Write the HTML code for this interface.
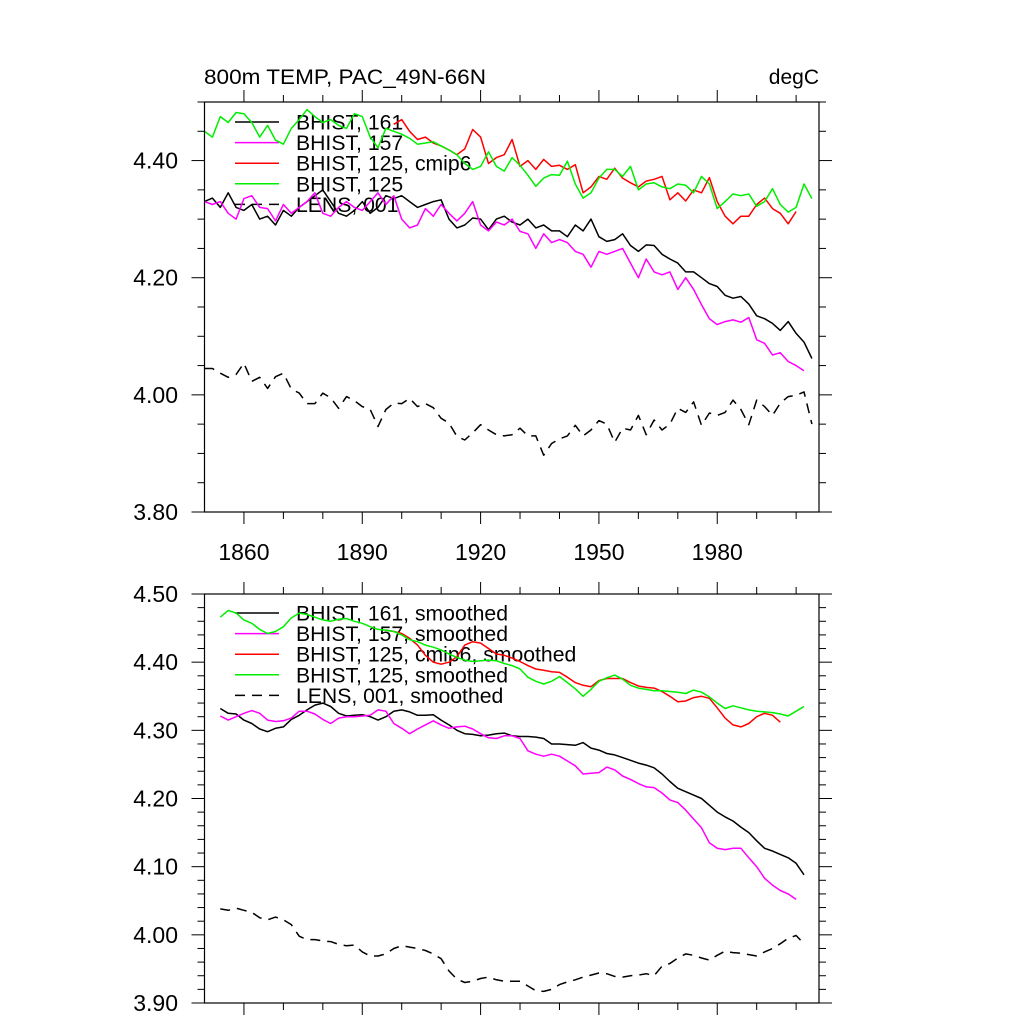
<!DOCTYPE html>
<html><head><meta charset="utf-8"><style>
html,body{margin:0;padding:0;background:#fff;}
svg{display:block;font-family:"Liberation Sans",Arial,sans-serif;}
</style></head><body>
<svg id="chart" width="1024" height="1024" viewBox="0 0 1024 1024" xmlns="http://www.w3.org/2000/svg">
<rect width="1024" height="1024" fill="#fff"/>
<text x="204" y="84" font-size="21" textLength="282" lengthAdjust="spacingAndGlyphs">800m TEMP, PAC_49N-66N</text>
<text x="819" y="84" font-size="21" text-anchor="end">degC</text>
<g id="top"></g>
<g id="bot"></g>
</svg>
<script>
// ---------- data ----------
const yearsTop = [];
for (let y = 1850; y <= 2004; y += 2) yearsTop.push(y);
const yearsSm = [];
for (let y = 1854; y <= 2002; y += 2) yearsSm.push(y);
const xTickLabels = [1860, 1890, 1920, 1950, 1980];
const topYTicks = [3.80, 4.00, 4.20, 4.40];
const botYTicks = [3.90, 4.00, 4.10, 4.20, 4.30, 4.40, 4.50];

const bhist161 = [4.33,4.336,4.32,4.345,4.32,4.315,4.325,4.30,4.305,4.29,4.315,4.305,4.32,4.33,4.34,4.35,4.33,4.31,4.305,4.315,4.33,4.31,4.32,4.34,4.335,4.34,4.33,4.32,4.325,4.33,4.333,4.30,4.285,4.29,4.302,4.30,4.282,4.30,4.305,4.295,4.29,4.30,4.285,4.29,4.28,4.28,4.27,4.29,4.28,4.30,4.27,4.262,4.265,4.275,4.255,4.245,4.256,4.255,4.24,4.232,4.225,4.21,4.21,4.20,4.19,4.185,4.17,4.165,4.168,4.155,4.135,4.13,4.122,4.11,4.125,4.105,4.09,4.062];
const bhist157 = [4.33,4.325,4.33,4.31,4.30,4.335,4.34,4.32,4.318,4.297,4.325,4.31,4.32,4.33,4.345,4.31,4.305,4.32,4.33,4.32,4.315,4.33,4.345,4.325,4.34,4.30,4.285,4.29,4.318,4.305,4.325,4.31,4.297,4.31,4.33,4.29,4.28,4.295,4.29,4.30,4.279,4.275,4.25,4.275,4.26,4.265,4.26,4.245,4.24,4.218,4.245,4.24,4.245,4.25,4.225,4.20,4.232,4.21,4.205,4.21,4.18,4.20,4.18,4.154,4.13,4.12,4.125,4.128,4.124,4.132,4.094,4.088,4.068,4.072,4.057,4.05,4.041,null];
const bhist125c6 = [null,null,null,null,null,null,null,null,null,null,null,null,null,null,null,null,null,null,null,null,null,null,null,null,4.462,4.47,4.45,4.436,4.44,4.43,4.425,4.418,4.41,4.42,4.453,4.44,4.395,4.405,4.41,4.436,4.39,4.40,4.385,4.402,4.39,4.392,4.385,4.393,4.345,4.355,4.373,4.368,4.387,4.37,4.362,4.355,4.365,4.368,4.373,4.333,4.345,4.331,4.35,4.345,4.371,4.33,4.305,4.292,4.305,4.305,4.325,4.336,4.318,4.31,4.292,4.313,null,null];
const bhist125 = [4.45,4.44,4.475,4.465,4.482,4.48,4.465,4.44,4.46,4.435,4.428,4.455,4.47,4.487,4.475,4.465,4.47,4.46,4.455,4.48,4.475,4.44,4.422,4.455,4.45,4.445,4.438,4.428,4.43,4.432,4.425,4.418,4.41,4.395,4.385,4.39,4.415,4.39,4.382,4.405,4.392,4.375,4.356,4.37,4.376,4.375,4.399,4.36,4.336,4.345,4.37,4.385,4.385,4.373,4.39,4.35,4.36,4.362,4.355,4.352,4.36,4.358,4.345,4.373,4.36,4.318,4.33,4.343,4.34,4.343,4.322,4.33,4.352,4.325,4.312,4.32,4.36,4.335];
const lens001 = [4.045,4.045,4.037,4.03,4.035,4.054,4.023,4.03,4.011,4.031,4.037,4.01,4.003,3.985,3.985,4.003,3.995,3.977,3.997,3.99,3.98,3.975,3.946,3.975,3.986,3.985,3.994,3.98,3.985,3.978,3.96,3.952,3.929,3.923,3.935,3.949,3.94,3.932,3.93,3.932,3.943,3.93,3.93,3.897,3.917,3.925,3.93,3.948,3.93,3.94,3.956,3.95,3.919,3.943,3.94,3.965,3.932,3.957,3.94,3.95,3.977,3.97,3.988,3.948,3.969,3.965,3.97,3.991,3.975,3.949,3.991,3.98,3.965,3.986,3.997,3.999,4.005,3.95];

const sm161 = [4.332,4.325,4.324,4.315,4.31,4.302,4.298,4.303,4.305,4.316,4.322,4.33,4.337,4.34,4.335,4.325,4.321,4.322,4.323,4.32,4.315,4.32,4.328,4.33,4.327,4.322,4.322,4.323,4.315,4.308,4.3,4.295,4.294,4.292,4.293,4.295,4.296,4.292,4.291,4.291,4.29,4.288,4.28,4.28,4.279,4.278,4.282,4.274,4.271,4.266,4.264,4.26,4.256,4.252,4.249,4.245,4.236,4.225,4.215,4.21,4.205,4.2,4.19,4.18,4.173,4.167,4.158,4.15,4.138,4.127,4.123,4.118,4.113,4.105,4.088];
const sm157 = [4.321,4.315,4.32,4.325,4.329,4.325,4.315,4.313,4.314,4.318,4.328,4.328,4.324,4.316,4.31,4.318,4.32,4.32,4.321,4.322,4.33,4.328,4.31,4.303,4.295,4.302,4.308,4.314,4.308,4.303,4.305,4.306,4.302,4.295,4.289,4.288,4.292,4.292,4.288,4.27,4.265,4.262,4.265,4.262,4.255,4.248,4.236,4.237,4.238,4.246,4.242,4.233,4.228,4.222,4.217,4.216,4.208,4.198,4.194,4.183,4.17,4.157,4.135,4.127,4.125,4.127,4.127,4.113,4.1,4.083,4.073,4.065,4.06,4.052,null];
const sm125c6 = [null,null,null,null,null,null,null,null,null,null,null,null,null,null,null,null,null,null,null,null,null,4.447,4.445,4.442,4.435,4.425,4.41,4.4,4.397,4.4,4.408,4.425,4.43,4.428,4.42,4.412,4.41,4.406,4.401,4.395,4.39,4.388,4.386,4.385,4.378,4.37,4.366,4.364,4.373,4.376,4.376,4.376,4.37,4.365,4.363,4.362,4.357,4.35,4.342,4.343,4.348,4.35,4.347,4.333,4.318,4.308,4.305,4.31,4.32,4.325,4.322,4.312,null,null,null];
const sm125 = [4.466,4.476,4.472,4.462,4.457,4.448,4.442,4.445,4.452,4.465,4.472,4.47,4.466,4.462,4.46,4.463,4.464,4.46,4.457,4.452,4.448,4.447,4.445,4.44,4.433,4.43,4.425,4.422,4.418,4.412,4.407,4.403,4.401,4.402,4.403,4.402,4.398,4.395,4.39,4.378,4.372,4.368,4.372,4.379,4.37,4.361,4.35,4.36,4.372,4.377,4.381,4.375,4.366,4.362,4.36,4.358,4.358,4.357,4.356,4.354,4.359,4.356,4.349,4.34,4.332,4.336,4.333,4.33,4.328,4.327,4.326,4.324,4.321,4.328,4.335];
const smLens = [4.038,4.036,4.039,4.036,4.033,4.025,4.022,4.026,4.022,4.015,3.998,3.993,3.993,3.991,3.99,3.986,3.984,3.985,3.975,3.969,3.969,3.972,3.98,3.984,3.982,3.98,3.977,3.972,3.965,3.947,3.935,3.93,3.932,3.936,3.938,3.934,3.932,3.932,3.932,3.925,3.918,3.917,3.92,3.927,3.931,3.934,3.938,3.941,3.944,3.943,3.939,3.938,3.94,3.941,3.943,3.94,3.954,3.958,3.966,3.972,3.97,3.966,3.963,3.97,3.976,3.974,3.973,3.971,3.969,3.975,3.98,3.987,3.995,3.999,3.987];

const topLegend = ["BHIST, 161","BHIST, 157","BHIST, 125, cmip6","BHIST, 125","LENS, 001"];
const botLegend = ["BHIST, 161, smoothed","BHIST, 157, smoothed","BHIST, 125, cmip6, smoothed","BHIST, 125, smoothed","LENS, 001, smoothed"];

// ---------- drawing ----------
const NS = "http://www.w3.org/2000/svg";
const X0 = 204.5, X1 = 819, YR0 = 1850, YR1 = 2005.8;
function xScale(yr){ return X0 + (yr - YR0) / (YR1 - YR0) * (X1 - X0); }
function mk(tag, parent, attrs){
  const e = document.createElementNS(NS, tag);
  for (const k in attrs) e.setAttribute(k, attrs[k]);
  parent.appendChild(e); return e;
}
const colors = ["#000","#ff00ff","#ff0000","#00ee00","#000"];

function panel(g, top, bot, vmin, vmax, yTicks, minorStep, showXLabels, legend, legY, years, series, seriesNames){
  const yScale = v => bot - (v - vmin) / (vmax - vmin) * (bot - top);
  legend.forEach((t, i) => {
    const yy = legY + i * 20.6;
    const ln = mk("line", g, {x1:235, x2:279, y1:yy, y2:yy, stroke:colors[i], "stroke-width":1.5});
    if (i === 4) ln.setAttribute("stroke-dasharray","10 7");
    
    
    const tx = mk("text", g, {x:296, y:yy + 7.5, "font-size":21.2});
    tx.textContent = t;
    
    
  });
  series.forEach((arr, i) => {
    let d = "", pen = false;
    arr.forEach((v, j) => {
      if (v === null) { pen = false; return; }
      d += (pen ? "L" : "M") + xScale(years[j]).toFixed(1) + "," + yScale(v).toFixed(1);
      pen = true;
    });
    const p = mk("path", g, {d:d, fill:"none", stroke:colors[i], "stroke-width":1.5, "stroke-linejoin":"round"});
    if (i === 4) p.setAttribute("stroke-dasharray","10 7");
    
    
  });
  const fr = mk("rect", g, {x:X0, y:top, width:X1 - X0, height:bot - top, fill:"none", stroke:"#000", "stroke-width":1.2});
  
  
  for (let yr = 1860; yr <= 2000; yr += 10) {
    const major = (yr - 1860) % 30 === 0;
    const L = major ? 12 : 7, x = xScale(yr);
    const t1 = mk("line", g, {x1:x, x2:x, y1:bot, y2:bot + L, stroke:"#000", "stroke-width":1});
    
    
    const t2 = mk("line", g, {x1:x, x2:x, y1:top, y2:top - L, stroke:"#000", "stroke-width":1});
    
    
  }
  if (showXLabels) xTickLabels.forEach(yr => {
    const t = mk("text", g, {x:xScale(yr), y:bot + 48, "font-size":23, "text-anchor":"middle"});
    t.textContent = String(yr);
    
    
  });
  const n = Math.round((vmax - vmin) / minorStep);
  for (let k = 0; k <= n; k++) {
    const v = vmin + k * minorStep, y = yScale(v);
    const major = yTicks.some(t => Math.abs(t - v) < 1e-6);
    const L = major ? 13 : 7;
    const a = mk("line", g, {x1:X0 - L, x2:X0, y1:y, y2:y, stroke:"#000", "stroke-width":1});
    
    
    const b = mk("line", g, {x1:X1, x2:X1 + L, y1:y, y2:y, stroke:"#000", "stroke-width":1});
    
    
  }
  yTicks.forEach(v => {
    const t = mk("text", g, {x:178, y:yScale(v) + 8, "font-size":23, "text-anchor":"end"});
    t.textContent = v.toFixed(2);
    
    
  });
}
const names = ["bhist-161","bhist-157","bhist-125-cmip6","bhist-125","lens-001"];
panel(document.getElementById("top"), 102, 512, 3.8, 4.5, topYTicks, 0.05, true, topLegend, 122, yearsTop,
  [bhist161, bhist157, bhist125c6, bhist125, lens001], names);
panel(document.getElementById("bot"), 594, 1003, 3.9, 4.5, botYTicks, 0.02, false, botLegend, 613, yearsSm,
  [sm161, sm157, sm125c6, sm125, smLens], names);
</script>
</body></html>
